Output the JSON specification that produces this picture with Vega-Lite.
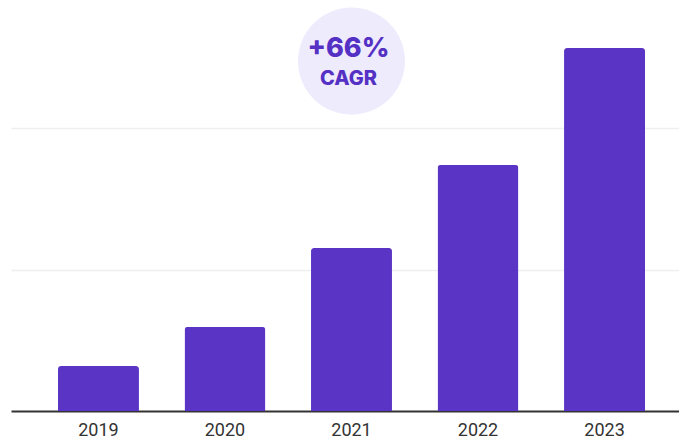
{
  "$schema": "https://vega.github.io/schema/vega-lite/v6.json",
  "width": 668,
  "height": 411,
  "autosize": {"type": "none"},
  "padding": {"left": 11, "top": 0, "right": 0, "bottom": 29},
  "background": "#ffffff",
  "config": {"view": {"stroke": null}},
  "datasets": {
    "bars": [
      {"year": "2019", "value": 31.8},
      {"year": "2020", "value": 59.4},
      {"year": "2021", "value": 115.2},
      {"year": "2022", "value": 173.9},
      {"year": "2023", "value": 256.5}
    ],
    "notes": [
      {"year": "2021", "v": 256.2, "label": "+66%", "kind": "big"},
      {"year": "2021", "v": 235.0, "label": "CAGR", "kind": "small"}
    ],
    "badge": [
      {"year": "2021", "v": 247.3}
    ]
  },
  "layer": [
    {
      "data": {"name": "bars"},
      "mark": {"type": "bar", "color": "#5a35c5", "cornerRadiusTopLeft": 3, "cornerRadiusTopRight": 3},
      "encoding": {
        "x": {
          "field": "year", "type": "nominal", "sort": null,
          "scale": {"range": [0, 681], "paddingInner": 0.36, "paddingOuter": 0.3715},
          "axis": {"title": null, "labelAngle": 0, "ticks": false, "domainColor": "#333333", "domainWidth": 2,
                   "labelFont": "Roboto", "labelFontSize": 18, "labelColor": "#333333", "labelPadding": 10}
        },
        "y": {
          "field": "value", "type": "quantitative",
          "scale": {"domain": [0, 290.5], "nice": false, "zero": true},
          "axis": {"title": null, "labels": false, "ticks": false, "domain": false, "values": [100, 200],
                   "grid": true, "gridColor": "#efefef", "gridWidth": 1.5}
        }
      }
    },
    {
      "data": {"name": "badge"},
      "mark": {"type": "point", "shape": "circle", "filled": true, "color": "#eeebfd", "opacity": 1, "size": 11450},
      "encoding": {
        "x": {"field": "year", "type": "nominal"},
        "y": {"field": "v", "type": "quantitative"}
      }
    },
    {
      "data": {"name": "notes"},
      "transform": [{"filter": "datum.kind === 'big'"}],
      "mark": {"type": "text", "font": "Inter", "fontWeight": 800, "fontSize": 27, "color": "#5431c4", "baseline": "middle", "align": "center", "dx": -3},
      "encoding": {
        "x": {"field": "year", "type": "nominal"},
        "y": {"field": "v", "type": "quantitative"},
        "text": {"field": "label"}
      }
    },
    {
      "data": {"name": "notes"},
      "transform": [{"filter": "datum.kind === 'small'"}],
      "mark": {"type": "text", "font": "Inter", "fontWeight": 800, "fontSize": 20, "color": "#5431c4", "baseline": "middle", "align": "center", "dx": -3},
      "encoding": {
        "x": {"field": "year", "type": "nominal"},
        "y": {"field": "v", "type": "quantitative"},
        "text": {"field": "label"}
      }
    }
  ]
}
